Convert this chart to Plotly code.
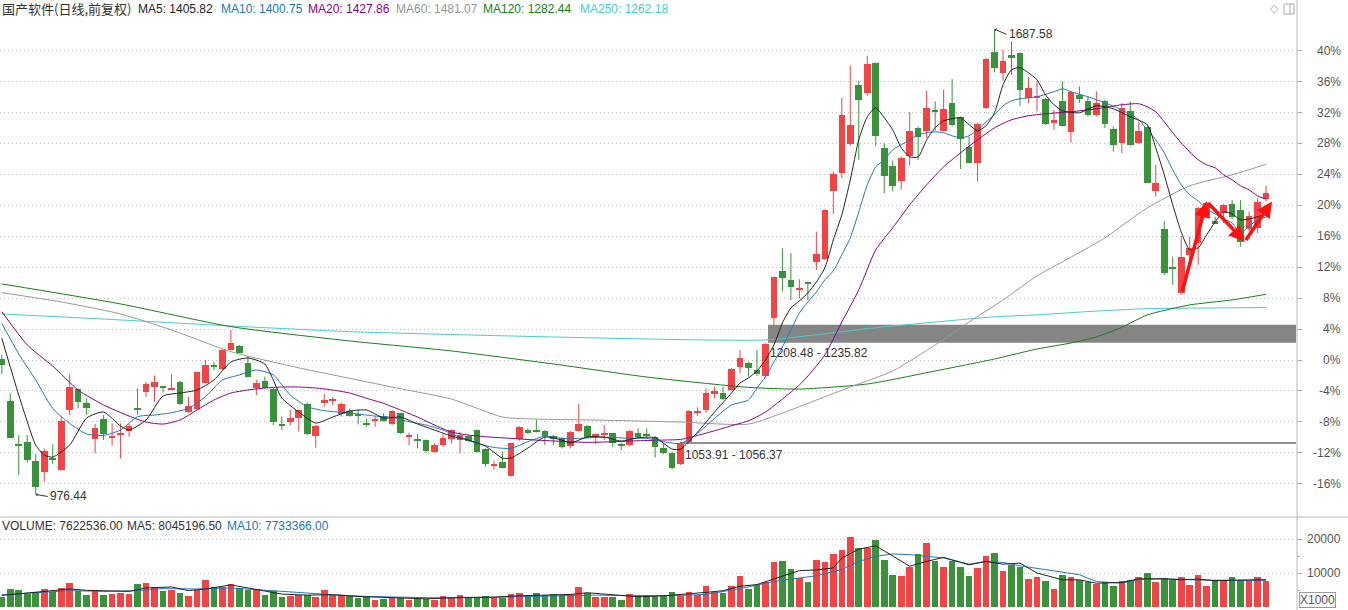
import plotly.graph_objects as go

# ---------------- data ----------------
BASE_PRICE = 1182.0          # price that the right axis shows as 0 %
security_name = "国产软件(日线,前复权)"
ma_names = ["MA5", "MA10", "MA20", "MA60", "MA120", "MA250"]
ma_last = ["1405.82", "1400.75", "1427.86", "1481.07", "1282.44", "1262.18"]
pct_ticks = [-16, -12, -8, -4, 0, 4, 8, 12, 16, 20, 24, 28, 32, 36, 40]
vol_ticks = [10000, 20000]
vol_minor_ticks = [5000, 15000]
vol_title = ["VOLUME: 7622536.00", "MA5: 8045196.50", "MA10: 7733366.00"]

opens = [1183.0, 1119.8, 1053.0, 1056.0, 1027.5, 1011.2, 1031.5, 1013.7, 1105.5, 1137.1,
         1115.7, 1060.6, 1091.7, 1064.2, 1068.3, 1073.9, 1109.1, 1132.5, 1140.2, 1140.7,
         1136.6, 1147.8, 1102.9, 1106.5, 1147.3, 1173.8, 1167.7, 1197.3, 1203.4, 1176.9,
         1139.7, 1150.4, 1137.1, 1083.6, 1087.6, 1092.7, 1114.7, 1066.2, 1116.7, 1119.8,
         1098.9, 1104.5, 1098.9, 1085.1, 1090.2, 1096.3, 1084.1, 1100.4, 1065.7, 1061.6,
         1059.6, 1041.8, 1051.9, 1060.6, 1059.6, 1065.7, 1074.9, 1045.8, 1020.3, 1025.4,
         1004.5, 1060.6, 1074.9, 1074.4, 1073.4, 1065.7, 1062.2, 1050.4, 1073.9, 1081.0,
         1063.7, 1067.8, 1069.8, 1053.0, 1051.9, 1069.8, 1068.3, 1064.7, 1046.9, 1040.2,
         1022.9, 1057.1, 1101.9, 1105.5, 1129.5, 1132.0, 1136.1, 1171.8, 1177.9, 1166.7,
         1157.5, 1245.8, 1318.2, 1304.4, 1289.1, 1300.3, 1332.4, 1336.0, 1439.6, 1468.6,
         1512.0, 1602.8, 1590.0, 1635.9, 1505.8, 1478.8, 1454.9, 1494.1, 1536.5, 1531.4,
         1564.5, 1532.4, 1574.7, 1553.3, 1506.9, 1483.9, 1567.1, 1652.7, 1620.6, 1648.6,
         1651.2, 1582.4, 1583.9, 1581.3, 1544.1, 1578.3, 1529.8, 1587.5, 1578.3, 1555.8,
         1577.2, 1535.4, 1513.5, 1562.0, 1513.5, 1538.0, 1439.6, 1382.0, 1324.3, 1284.0,
         1342.7, 1360.6, 1403.9, 1394.2, 1406.4, 1420.7, 1411.5, 1382.0, 1383.5, 1427.9]
highs = [1189.7, 1131.0, 1067.2, 1067.2, 1038.2, 1046.8, 1053.0, 1096.3, 1160.1, 1138.6,
         1123.4, 1084.1, 1097.9, 1085.1, 1085.1, 1084.1, 1138.6, 1148.8, 1158.0, 1141.2,
         1160.1, 1149.9, 1125.9, 1164.2, 1182.0, 1179.4, 1198.3, 1227.9, 1205.0, 1188.1,
         1151.4, 1156.5, 1138.6, 1095.3, 1105.5, 1106.5, 1116.7, 1082.6, 1130.0, 1124.9,
         1116.7, 1108.0, 1105.5, 1092.7, 1096.3, 1100.4, 1105.5, 1101.4, 1070.8, 1068.8,
         1060.5, 1054.5, 1068.8, 1075.9, 1072.4, 1067.3, 1075.9, 1046.9, 1028.0, 1041.8,
         1055.5, 1081.0, 1077.4, 1091.2, 1074.9, 1067.3, 1063.7, 1073.9, 1114.7, 1082.6,
         1069.8, 1082.6, 1070.8, 1055.5, 1074.9, 1077.4, 1077.4, 1065.7, 1054.5, 1041.8,
         1054.5, 1105.5, 1109.6, 1138.6, 1141.2, 1141.2, 1169.3, 1197.3, 1179.4, 1197.3,
         1207.6, 1309.4, 1352.9, 1345.2, 1305.4, 1301.9, 1378.3, 1412.5, 1470.1, 1582.4,
         1631.8, 1608.9, 1647.1, 1636.9, 1513.5, 1487.0, 1493.1, 1560.9, 1539.0, 1593.6,
         1577.2, 1595.1, 1611.4, 1554.3, 1523.7, 1544.1, 1643.6, 1687.58, 1656.3, 1669.0,
         1652.2, 1614.5, 1607.9, 1582.4, 1564.5, 1607.9, 1592.6, 1600.2, 1584.9, 1592.6,
         1579.8, 1539.0, 1574.7, 1577.2, 1546.7, 1540.0, 1480.4, 1393.6, 1340.0, 1371.7,
         1370.6, 1416.5, 1424.2, 1401.2, 1420.7, 1426.8, 1426.8, 1408.9, 1429.4, 1448.7]
lows = [1160.6, 1062.2, 1006.1, 1024.9, 976.44, 995.9, 1022.9, 1012.7, 1097.9, 1108.0,
        1097.9, 1039.2, 1059.6, 1050.9, 1031.5, 1064.7, 1097.9, 1125.9, 1118.3, 1132.5,
        1135.6, 1113.2, 1101.4, 1105.5, 1146.3, 1166.7, 1166.7, 1196.3, 1192.2, 1155.5,
        1128.5, 1138.6, 1082.6, 1074.9, 1082.6, 1072.4, 1067.3, 1047.9, 1110.6, 1113.2,
        1095.3, 1095.3, 1083.6, 1080.0, 1080.0, 1087.7, 1082.6, 1068.8, 1052.0, 1046.9,
        1040.2, 1040.2, 1049.4, 1054.5, 1039.2, 1057.1, 1040.2, 1018.8, 1014.7, 1016.3,
        1003.5, 1058.6, 1068.8, 1071.3, 1052.0, 1052.0, 1046.9, 1046.9, 1072.4, 1062.2,
        1053.5, 1059.6, 1049.4, 1044.3, 1050.4, 1062.2, 1063.7, 1033.1, 1038.2, 1014.7,
        1021.4, 1055.5, 1096.3, 1101.4, 1123.4, 1120.8, 1135.1, 1161.6, 1156.4, 1157.5,
        1156.4, 1235.6, 1286.6, 1273.8, 1276.4, 1273.8, 1319.7, 1335.0, 1405.4, 1460.0,
        1509.4, 1488.0, 1585.9, 1509.4, 1437.0, 1439.6, 1442.1, 1479.3, 1488.0, 1521.2,
        1532.4, 1531.4, 1539.0, 1473.7, 1482.9, 1454.9, 1565.5, 1621.6, 1608.9, 1618.1,
        1570.6, 1574.7, 1561.9, 1541.6, 1533.9, 1539.0, 1514.5, 1574.7, 1554.3, 1554.3,
        1536.5, 1500.8, 1498.2, 1509.4, 1512.5, 1452.3, 1431.9, 1312.1, 1296.8, 1281.5,
        1324.7, 1327.4, 1402.3, 1390.0, 1391.2, 1397.3, 1355.3, 1378.3, 1375.9, 1424.2]
closes = [1174.3, 1063.2, 1050.9, 1029.0, 987.2, 1042.8, 1029.5, 1088.7, 1140.2, 1117.2,
          1108.0, 1077.4, 1068.8, 1066.2, 1070.3, 1081.0, 1107.0, 1144.8, 1147.8, 1139.7,
          1138.1, 1114.2, 1111.6, 1163.1, 1174.3, 1171.8, 1197.3, 1208.5, 1193.2, 1156.5,
          1147.3, 1139.7, 1087.6, 1081.5, 1092.7, 1105.5, 1068.3, 1081.0, 1120.8, 1121.8,
          1114.2, 1096.3, 1096.8, 1083.1, 1092.2, 1089.2, 1104.0, 1069.8, 1067.3, 1059.6,
          1043.3, 1051.9, 1062.2, 1074.9, 1067.3, 1058.6, 1041.8, 1022.4, 1022.4, 1017.3,
          1054.5, 1080.0, 1070.8, 1072.4, 1065.7, 1060.6, 1048.4, 1072.4, 1084.1, 1063.7,
          1068.8, 1069.8, 1054.5, 1050.9, 1073.4, 1063.7, 1066.2, 1049.4, 1039.2, 1016.3,
          1053.0, 1104.0, 1104.0, 1131.0, 1134.6, 1121.8, 1168.2, 1184.6, 1170.2, 1160.6,
          1206.5, 1308.5, 1308.0, 1294.2, 1290.6, 1298.3, 1343.7, 1411.5, 1466.6, 1556.9,
          1541.6, 1579.8, 1634.4, 1523.7, 1464.0, 1448.7, 1490.6, 1532.4, 1522.7, 1567.1,
          1562.5, 1565.5, 1541.6, 1520.1, 1483.9, 1542.6, 1642.0, 1628.2, 1639.5, 1643.6,
          1594.1, 1597.7, 1585.9, 1542.6, 1549.2, 1540.0, 1591.0, 1580.8, 1555.8, 1574.7,
          1542.6, 1509.9, 1567.1, 1510.9, 1531.4, 1453.3, 1452.3, 1315.6, 1320.5, 1339.1,
          1353.4, 1414.1, 1421.8, 1391.2, 1419.2, 1401.3, 1363.0, 1402.3, 1424.2, 1438.0]
# volume in thousands of shares (axis is "X1000")
volumes = [2833, 5382, 5088, 3912, 4500, 5382, 4303, 5676, 7147, 4794,
           3617, 4891, 3617, 3912, 4206, 3912, 6853, 7147, 5970, 4794,
           4990, 4206, 3323, 4990, 8029, 5970, 5970, 6853, 5479, 4891,
           5382, 3617, 4696, 3029, 3323, 3519, 3519, 3029, 5088, 3617,
           3617, 3323, 2539, 3029, 2147, 2343, 2600, 2539, 2147, 2343,
           2343, 2147, 3323, 2539, 3617, 2637, 2637, 3127, 2637, 2637,
           3912, 4206, 3127, 4108, 3617, 3814, 3420, 3814, 5970, 4108,
           3029, 3029, 3029, 2147, 3912, 3420, 3420, 3127, 3127, 4500,
           3323, 4500, 3617, 6264, 4500, 4108, 6068, 9205, 5382, 6558,
           7343, 13323, 13617, 11264, 8520, 7441, 13911, 13323, 15675, 16655,
           20675, 17440, 17342, 19596, 13715, 9499, 9205, 11852, 15675, 18910,
           13420, 11852, 13617, 11656, 9205, 11460, 15087, 15969, 10676, 12440,
           11656, 8323, 8715, 7735, 5382, 9499, 8911, 7931, 7245, 6853,
           7441, 6264, 7735, 8029, 8715, 10088, 7245, 8617, 7931, 8715,
           6362, 9499, 6264, 7931, 7931, 8715, 7833, 7931, 8911, 7622.5]

# moving averages (candle index, value)
ma5_i = [0, 2, 4, 5, 6, 8, 10, 12, 14, 15, 17, 19, 21, 23, 25, 27, 29, 31, 32, 33, 35, 37, 39, 41, 43,
         45, 47, 49, 51, 53, 55, 57, 59, 60, 62, 64, 66, 67, 69, 71, 73, 75, 77, 79, 80, 82, 84, 86,
         87, 88, 89, 90, 91, 92, 93, 94, 95, 96, 97, 98, 99, 100, 101, 102, 103, 104, 105, 106, 107,
         108, 109, 110, 111, 112, 113, 114, 115, 116, 117, 118, 119, 120, 121, 122, 123, 124, 125,
         127, 129, 131, 133, 135, 136, 137, 138, 139, 140, 141, 142, 143, 144, 145, 146, 147, 148, 149]
ma5_v = [1215.2, 1128.5, 1052.0, 1036.7, 1033.6, 1052.0, 1093.3, 1102.4, 1081.0, 1074.9, 1090.2,
         1126.9, 1131.5, 1136.1, 1151.4, 1178.9, 1185.1, 1175.9, 1151.4, 1123.9, 1102.4, 1085.6,
         1094.8, 1104.0, 1105.5, 1093.3, 1094.8, 1084.1, 1074.9, 1065.7, 1059.6, 1050.4, 1032.1,
         1032.1, 1047.4, 1064.2, 1059.6, 1055.0, 1064.2, 1064.2, 1058.1, 1063.2, 1063.2, 1045.8,
         1045.8, 1071.8, 1102.4, 1131.5, 1146.8, 1154.5, 1165.2, 1182.0, 1205.0, 1238.6, 1261.6,
         1272.3, 1284.5, 1301.3, 1322.8, 1365.6, 1403.9, 1457.4, 1518.6, 1553.8, 1567.6, 1552.3,
         1533.9, 1506.4, 1492.6, 1492.6, 1518.6, 1537.0, 1547.7, 1550.8, 1552.3, 1541.6, 1532.4,
         1540.0, 1559.9, 1602.8, 1625.7, 1628.8, 1621.1, 1610.4, 1587.5, 1572.2, 1563.0, 1559.9,
         1570.6, 1566.0, 1553.8, 1541.6, 1506.4, 1465.1, 1419.2, 1377.8, 1350.3, 1353.4, 1373.3,
         1393.1, 1408.4, 1405.4, 1396.2, 1397.7, 1400.8, 1405.82]
ma10_i = [0, 2, 4, 6, 8, 10, 12, 14, 16, 18, 20, 22, 24, 26, 28, 30, 32, 34, 36, 38, 40, 42, 44, 46,
          48, 50, 52, 54, 56, 58, 60, 62, 64, 66, 68, 70, 72, 74, 76, 78, 80, 82, 84, 86, 88, 89, 90,
          91, 92, 93, 94, 95, 96, 97, 98, 99, 100, 101, 102, 103, 104, 105, 106, 107, 108, 109, 110,
          111, 112, 113, 114, 115, 116, 117, 118, 119, 120, 122, 124, 125, 126, 128, 130, 132, 134,
          135, 136, 137, 138, 139, 140, 141, 142, 143, 144, 145, 146, 147, 148, 149]
ma10_v = [1238.1, 1191.2, 1151.4, 1108.1, 1085.1, 1068.8, 1066.8, 1074.9, 1095.3, 1097.9, 1101.4,
          1108.1, 1125.9, 1151.4, 1159.1, 1166.7, 1159.1, 1128.5, 1110.6, 1104.5, 1102.0, 1099.4,
          1096.3, 1094.3, 1087.6, 1082.6, 1074.9, 1063.7, 1054.5, 1048.4, 1046.9, 1057.0, 1065.7,
          1062.2, 1062.2, 1063.7, 1063.7, 1062.2, 1062.2, 1057.0, 1054.5, 1069.8, 1092.8, 1113.2,
          1120.8, 1139.2, 1156.0, 1178.9, 1201.9, 1227.9, 1253.9, 1270.7, 1286.0, 1304.4, 1318.2,
          1342.7, 1368.7, 1408.4, 1449.8, 1477.3, 1488.0, 1503.3, 1511.0, 1518.6, 1526.3, 1529.3,
          1530.8, 1529.3, 1524.7, 1521.7, 1524.7, 1533.9, 1546.1, 1556.9, 1570.6, 1578.3, 1581.3,
          1584.4, 1592.0, 1596.6, 1592.0, 1584.4, 1575.2, 1564.5, 1549.2, 1533.9, 1518.6, 1498.7,
          1472.7, 1449.8, 1434.5, 1425.2, 1412.9, 1405.3, 1397.6, 1391.5, 1376.3, 1386.9, 1396.1,
          1400.75]
ma20_i = [0, 3, 6, 9, 12, 15, 17, 19, 21, 23, 25, 27, 29, 31, 33, 35, 37, 39, 41, 43, 45, 47, 49, 51,
          53, 55, 57, 60, 63, 66, 69, 72, 75, 78, 80, 82, 84, 86, 88, 90, 92, 94, 95, 97, 99, 101,
          103, 105, 107, 109, 111, 113, 115, 117, 119, 121, 123, 126, 129, 132, 134, 135, 136, 137,
          138, 139, 140, 141, 142, 143, 144, 145, 146, 147, 148, 149]
ma20_v = [1255.9, 1205.0, 1172.8, 1136.1, 1113.2, 1096.3, 1087.1, 1084.1, 1090.2, 1105.5, 1120.8,
          1131.5, 1136.1, 1139.2, 1140.7, 1140.7, 1139.2, 1136.1, 1131.5, 1123.4, 1115.7, 1105.5,
          1094.8, 1082.6, 1071.8, 1067.3, 1064.7, 1062.2, 1059.6, 1057.6, 1056.1, 1057.0, 1058.6,
          1059.6, 1060.6, 1066.8, 1073.8, 1081.5, 1089.1, 1102.4, 1122.3, 1143.8, 1157.5, 1189.7,
          1240.1, 1289.1, 1350.3, 1384.0, 1419.2, 1449.8, 1477.3, 1498.7, 1518.6, 1537.0, 1549.2,
          1555.3, 1558.4, 1561.4, 1566.0, 1572.2, 1573.7, 1569.1, 1561.4, 1546.1, 1529.3, 1514.0,
          1500.2, 1488.0, 1480.4, 1475.8, 1465.1, 1457.4, 1448.2, 1442.1, 1432.9, 1427.86]
ma60_i = [0, 7, 14, 20, 27, 34, 41, 47, 53, 59, 63, 70, 80, 88, 92, 96, 100, 105, 110, 114, 118, 122,
          125, 130, 135, 140, 145, 149]
ma60_v = [1285.0, 1270.7, 1252.4, 1227.9, 1194.7, 1172.8, 1154.0, 1138.1, 1122.3, 1094.8, 1091.7,
          1090.2, 1087.1, 1084.0, 1100.9, 1120.8, 1140.7, 1165.2, 1205.0, 1240.1, 1273.8, 1310.5,
          1332.0, 1368.7, 1414.6, 1448.2, 1465.1, 1481.07]
ma120_i = [0, 14, 27, 41, 53, 65, 76, 88, 94, 102, 110, 117, 122, 126, 129, 132, 135, 140, 145, 149]
ma120_v = [1298.3, 1267.7, 1233.0, 1211.1, 1195.8, 1175.9, 1156.0, 1140.2, 1137.6, 1145.3, 1165.2,
           1183.5, 1198.8, 1208.0, 1217.2, 1232.0, 1250.9, 1266.2, 1273.8, 1282.44]
ma250_i = [0, 14, 27, 41, 55, 70, 83, 90, 96, 102, 110, 117, 122, 128, 135, 142, 149]
ma250_v = [1252.4, 1243.2, 1234.0, 1225.3, 1220.3, 1215.7, 1212.6, 1212.6, 1220.5, 1230.0, 1240.0,
           1248.0, 1251.0, 1256.0, 1260.5, 1261.5, 1262.18]
vol_ma5_i = [0, 2, 5, 8, 10, 13, 15, 17, 20, 22, 24, 27, 29, 31, 33, 36, 39, 42, 46, 50, 54, 58, 61,
             64, 67, 69, 72, 75, 78, 81, 83, 85, 87, 89, 92, 94, 96, 98, 99, 101, 103, 105, 107, 109,
             111, 114, 116, 118, 120, 122, 125, 127, 129, 132, 134, 137, 139, 141, 143, 145, 149]
vol_ma5_v = [3400, 3900, 4600, 5300, 4900, 4700, 4600, 5600, 5900, 4800, 5300, 6500, 5600, 4800, 3800,
             3500, 3600, 3100, 2700, 2400, 2800, 2900, 3300, 3600, 3700, 4200, 3500, 3000, 3300, 3800,
             4300, 4800, 6100, 6600, 9000, 10700, 10900, 11500, 14400, 17000, 18000, 14900, 12000,
             13400, 14600, 12400, 13400, 12600, 12900, 10000, 8000, 8000, 7000, 7200, 8300, 8300,
             8000, 8200, 7700, 7900, 8045]
vol_ma10_i = [0, 4, 8, 12, 16, 19, 23, 27, 31, 35, 39, 43, 47, 51, 55, 60, 65, 70, 75, 80, 83, 87, 91,
              96, 99, 101, 103, 105, 107, 111, 114, 116, 118, 120, 123, 125, 127, 129, 132, 134, 136,
              139, 141, 143, 145, 149]
vol_ma10_v = [3600, 4100, 4800, 4600, 4800, 5400, 5300, 5600, 4900, 4100, 3600, 3100, 2800, 2700, 2700,
              2900, 3300, 3500, 3300, 3400, 3700, 5400, 7500, 9200, 11000, 13400, 14900, 15600, 15400,
              14400, 12600, 13400, 13100, 12100, 11000, 10300, 9500, 7500, 7000, 8000, 8200, 8200,
              7900, 7900, 7800, 7733]

low_mark_i, low_mark_v = 4, 976.44
high_mark_i, high_mark_v = 117, 1687.58
band_start, band_lo, band_hi = 90.3, 1208.48, 1235.82
line_start, line_lo, line_hi = 79.9, 1053.91, 1056.37
zigzag_i = [139.06, 142.0, 146.5, 149.7]
zigzag_v = [1284.0, 1424.2, 1363.0, 1424.2]

# ---------------- styling ----------------
W, H = 1348, 610
ML, MR, MT, MB = 0, 52, 18, 3
PW, PH = W - ML - MR, H - MT - MB
ZERO_PX, PX_PER_PCT = 360.0, 7.7325
MAIN_BOTTOM_PX, VOL_TOP_PX = 516.0, 517.0
VOL_PER_PX = 10000 / 34.0

RED, GREEN = "#F24444", "#3A923A"
MA_COLORS = ["#222222", "#2277BB", "#880088", "#999999", "#168016", "#44CCD4"]
FONT = "Liberation Sans, Arial, Noto Sans CJK SC, sans-serif"
CJK_FONT = "Noto Sans CJK SC, sans-serif"


def px_x(px):
    return (px - ML) / PW


def px_y(py):
    return (H - MB - py) / PH


def price_at_px(py):
    return BASE_PRICE * (1 + (ZERO_PX - py) / PX_PER_PCT / 100.0)


n = len(opens)
idx = list(range(n))
up = [c >= o for o, c in zip(opens, closes)]
colors = [RED if u else GREEN for u in up]
body_base = []
body_h = []
for o, c in zip(opens, closes):
    h = abs(c - o)
    if h < 1.4:
        body_base.append((o + c) / 2 - 0.7)
        body_h.append(1.4)
    else:
        body_base.append(min(o, c))
        body_h.append(h)

fig = go.Figure()

# wicks
for want, col in ((True, RED), (False, GREEN)):
    wx, wy = [], []
    for i in idx:
        if up[i] == want:
            wx += [i, i, None]
            wy += [lows[i], highs[i], None]
    fig.add_trace(go.Scatter(x=wx, y=wy, mode="lines", line=dict(color=col, width=1),
                             hoverinfo="skip", showlegend=False, xaxis="x", yaxis="y"))

# bodies
fig.add_trace(go.Bar(x=idx, y=body_h, base=body_base, width=0.78,
                     marker=dict(color=colors, line=dict(width=0)),
                     hoverinfo="skip", showlegend=False, xaxis="x", yaxis="y"))

# moving averages
for (mi, mv), col in zip([(ma250_i, ma250_v), (ma120_i, ma120_v), (ma60_i, ma60_v),
                          (ma20_i, ma20_v), (ma10_i, ma10_v), (ma5_i, ma5_v)],
                         [MA_COLORS[5], MA_COLORS[4], MA_COLORS[3], MA_COLORS[2],
                          MA_COLORS[1], MA_COLORS[0]]):
    fig.add_trace(go.Scatter(x=mi, y=mv, mode="lines", line=dict(color=col, width=1, shape="spline",
                                                                  smoothing=0.6),
                             hoverinfo="skip", showlegend=False, xaxis="x", yaxis="y"))

# volume
fig.add_trace(go.Bar(x=idx, y=volumes, width=0.78, marker=dict(color=colors, line=dict(width=0)),
                     hoverinfo="skip", showlegend=False, xaxis="x2", yaxis="y2"))
fig.add_trace(go.Scatter(x=vol_ma10_i, y=vol_ma10_v, mode="lines", line=dict(color="#2277BB", width=1),
                         hoverinfo="skip", showlegend=False, xaxis="x2", yaxis="y2"))
fig.add_trace(go.Scatter(x=vol_ma5_i, y=vol_ma5_v, mode="lines", line=dict(color="#222222", width=1),
                         hoverinfo="skip", showlegend=False, xaxis="x2", yaxis="y2"))

pct_vals = [BASE_PRICE * (1 + p / 100.0) for p in pct_ticks]
xr = [-1.8 / 8.485, -1.8 / 8.485 + PW / 8.485]

shapes = [
    dict(type="rect", xref="x", yref="y", x0=band_start, x1=xr[1], y0=band_lo, y1=band_hi,
         fillcolor="#858585", line=dict(width=0), layer="between"),
    dict(type="rect", xref="x", yref="y", x0=line_start, x1=xr[1], y0=line_lo, y1=line_hi,
         fillcolor="#6E6E6E", line=dict(width=0), layer="between"),
    # right axis line
    dict(type="line", xref="paper", yref="paper", x0=px_x(1297), x1=px_x(1297),
         y0=px_y(610), y1=px_y(0), line=dict(color="#B8B8B8", width=1)),
    # separator between panels
    dict(type="line", xref="paper", yref="paper", x0=0, x1=px_x(1348),
         y0=px_y(517), y1=px_y(517), line=dict(color="#B8B8B8", width=1)),
    # little window icon top right
    dict(type="rect", xref="paper", yref="paper", x0=px_x(1284), x1=px_x(1294),
         y0=px_y(14), y1=px_y(4), line=dict(color="#AAAAAA", width=1), fillcolor="white"),
    dict(type="line", xref="paper", yref="paper", x0=px_x(1290), x1=px_x(1290),
         y0=px_y(14), y1=px_y(4), line=dict(color="#AAAAAA", width=1)),
]

ann = []
# header
head_x = [0, 136, 219, 306, 394, 481, 578]
ann.append(dict(x=px_x(head_x[0]), y=px_y(9), xref="paper", yref="paper", xanchor="left",
                yanchor="middle", text=security_name, showarrow=False,
                font=dict(family=CJK_FONT, size=13, color="#333333")))
for k, (nm, val) in enumerate(zip(ma_names, ma_last)):
    ann.append(dict(x=px_x(head_x[k + 1]), y=px_y(9), xref="paper", yref="paper", xanchor="left",
                    yanchor="middle", text=f"{nm}: {val}", showarrow=False,
                    font=dict(family=FONT, size=12, color=MA_COLORS[k])))
ann.append(dict(x=px_x(1274), y=px_y(9), xref="paper", yref="paper", xanchor="center",
                yanchor="middle", text="◇", showarrow=False,
                font=dict(family="DejaVu Sans", size=11, color="#AAAAAA")))
# volume header
vol_x = [0, 125, 225]
vol_cols = ["#333333", "#333333", "#2277BB"]
for t, xx, cc in zip(vol_title, vol_x, vol_cols):
    ann.append(dict(x=px_x(xx), y=px_y(526), xref="paper", yref="paper", xanchor="left",
                    yanchor="middle", text=t, showarrow=False,
                    font=dict(family=FONT, size=12, color=cc)))
# right tick labels
for p, v in zip(pct_ticks, pct_vals):
    ann.append(dict(x=px_x(1343), y=v, xref="paper", yref="y", xanchor="right", yanchor="middle",
                    text=f"{p}%", showarrow=False, font=dict(family=FONT, size=12, color="#555555")))
for v in vol_ticks:
    ann.append(dict(x=px_x(1343), y=v, xref="paper", yref="y2", xanchor="right", yanchor="middle",
                    text=str(v), showarrow=False, font=dict(family=FONT, size=12, color="#555555")))
ann.append(dict(x=px_x(1299), y=px_y(600), xref="paper", yref="paper", xanchor="left",
                yanchor="middle", text="X1000", showarrow=False, bordercolor="#999999",
                borderwidth=1, borderpad=0, font=dict(family=FONT, size=12, color="#555555")))
# price markers
ann.append(dict(x=low_mark_i, y=low_mark_v, xref="x", yref="y", ax=12, ay=2, xanchor="left",
                text=f"{low_mark_v:.2f}", showarrow=True, arrowhead=1, arrowsize=0.6,
                arrowwidth=1, arrowcolor="#333333", font=dict(family=FONT, size=12, color="#333333")))
ann.append(dict(x=high_mark_i, y=high_mark_v, xref="x", yref="y", ax=12, ay=5, xanchor="left",
                text=f"{high_mark_v:.2f}", showarrow=True, arrowhead=1, arrowsize=0.6,
                arrowwidth=1, arrowcolor="#333333", font=dict(family=FONT, size=12, color="#333333")))
ann.append(dict(x=band_start, y=price_at_px(353), xref="x", yref="y", xanchor="left",
                yanchor="middle", text=f"{band_lo:.2f} - {band_hi:.2f}", showarrow=False,
                font=dict(family=FONT, size=12, color="#333333")))
ann.append(dict(x=line_start + 0.4, y=price_at_px(455), xref="x", yref="y", xanchor="left",
                yanchor="middle", text=f"{line_lo:.2f} - {line_hi:.2f}", showarrow=False,
                font=dict(family=FONT, size=12, color="#333333")))
# red zig-zag arrows
for k in range(len(zigzag_i) - 1):
    ann.append(dict(x=zigzag_i[k + 1], y=zigzag_v[k + 1], ax=zigzag_i[k], ay=zigzag_v[k],
                    xref="x", yref="y", axref="x", ayref="y", text="", showarrow=True,
                    arrowhead=2, arrowsize=0.9, arrowwidth=3.5, arrowcolor="#FF1010", standoff=0))

grid = dict(showgrid=True, gridcolor="#BDBDBD", griddash="1px,3px", gridwidth=1)
fig.update_layout(
    width=W, height=H, margin=dict(l=ML, r=MR, t=MT, b=MB),
    paper_bgcolor="white", plot_bgcolor="white", barmode="overlay", bargap=0,
    showlegend=False, shapes=shapes, annotations=ann,
    xaxis=dict(domain=[0, 1], range=xr, showticklabels=False, showgrid=False, zeroline=False,
               showline=False, anchor="y", fixedrange=True),
    xaxis2=dict(domain=[0, 1], range=xr, showticklabels=False, showgrid=False, zeroline=False,
                showline=False, anchor="y2", matches="x"),
    yaxis=dict(domain=[px_y(MAIN_BOTTOM_PX), 1], range=[price_at_px(MAIN_BOTTOM_PX), price_at_px(MT)],
               side="right", tickvals=pct_vals, showticklabels=False, ticks="outside", ticklen=5,
               tickcolor="#AAAAAA", zeroline=False, showline=False, anchor="x", **grid),
    yaxis2=dict(domain=[0, px_y(VOL_TOP_PX)], range=[0, (H - MB - VOL_TOP_PX) * VOL_PER_PX],
                side="right", tickvals=vol_ticks, showticklabels=False, ticks="outside", ticklen=5,
                tickcolor="#AAAAAA", zeroline=False, showline=False, anchor="x2",
                minor=dict(tickvals=vol_minor_ticks, ticks="outside", ticklen=3, tickcolor="#AAAAAA",
                           showgrid=False),
                **grid),
)

fig.write_html("out.html", config={"displayModeBar": False})
